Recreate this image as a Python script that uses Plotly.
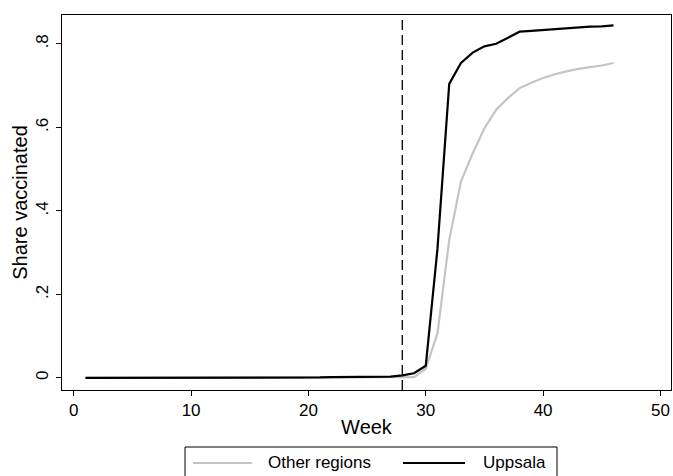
import plotly.graph_objects as go

weeks = list(range(1, 47))
other_regions = [0]*19 + [0.0003, 0.0006, 0.001, 0.001, 0.001, 0.001, 0.001, 0.0015, 0.002,
                 0.002, 0.022, 0.107, 0.33, 0.47, 0.538, 0.598, 0.642, 0.670, 0.694,
                 0.707, 0.718, 0.727, 0.734, 0.740, 0.744, 0.748, 0.754]
uppsala = [0]*19 + [0.0005, 0.001, 0.002, 0.002, 0.002, 0.002, 0.002, 0.003, 0.006,
           0.011, 0.029, 0.31, 0.704, 0.754, 0.779, 0.794, 0.800, 0.814, 0.829,
           0.831, 0.833, 0.836, 0.838, 0.840, 0.841, 0.842, 0.844]
vline_week = 28
x_ticks = [0, 10, 20, 30, 40, 50]
y_ticks = [0, 0.2, 0.4, 0.6, 0.8]
y_ticklabels = ["0", ".2", ".4", ".6", ".8"]
series_names = ["Other regions", "Uppsala"]
series_colors = ["#c4c4c4", "#000000"]

W, H = 673, 476
L, R, T, B = 62, 2, 15, 86
pw, ph = W - L - R, H - T - B


def px(x):
    return (x - L) / pw


def py(y):
    return (H - B - y) / ph


font = "Liberation Sans, Arial, Helvetica, sans-serif"
FS = 17
fig = go.Figure()
for name, vals, col in zip(series_names, [other_regions, uppsala], series_colors):
    fig.add_trace(go.Scatter(x=weeks, y=vals, mode="lines", name=name,
                             line=dict(color=col, width=2.2)))
fig.add_shape(type="line", x0=vline_week, x1=vline_week, y0=0, y1=1, yref="paper", xref="x",
              line=dict(color="black", width=1.3, dash="10px,5px"))

# legend drawn manually (Stata style box below the plot)
fig.add_shape(type="rect", xref="paper", yref="paper", x0=px(185), x1=px(557),
              y0=py(447), y1=py(495), line=dict(color="black", width=1), fillcolor="white",
              layer="above")
legend_items = [(193, 252, 266), (403, 465, 481)]
for (lx0, lx1, tx), name, col in zip(legend_items, series_names, series_colors):
    fig.add_shape(type="line", xref="paper", yref="paper", x0=px(lx0), x1=px(lx1),
                  y0=py(463), y1=py(463), line=dict(color=col, width=2.2), layer="above")
    fig.add_annotation(xref="paper", yref="paper", x=px(tx), y=py(463), text=name,
                       showarrow=False, xanchor="left", yanchor="middle",
                       font=dict(family=font, size=FS, color="black"))

fig.update_layout(
    width=W, height=H,
    margin=dict(l=L, r=R, t=T, b=B),
    paper_bgcolor="white", plot_bgcolor="white",
    font=dict(family=font, size=FS, color="black"),
    showlegend=False,
    xaxis=dict(range=[-1.0, 50.9], tickvals=x_ticks, ticks="outside", ticklen=5,
               tickcolor="black", showgrid=False, zeroline=False, showline=True,
               linecolor="black", linewidth=1, mirror=True, automargin=False,
               title=dict(text="Week", standoff=0)),
    yaxis=dict(range=[-0.029, 0.869], tickvals=y_ticks, ticktext=y_ticklabels,
               tickangle=-90, ticks="outside", ticklen=5, tickcolor="black",
               ticklabelstandoff=1,
               showgrid=False, zeroline=False, showline=True, linecolor="black",
               linewidth=1, mirror=True, automargin=False,
               title=dict(text="Share vaccinated", standoff=0)),
)
fig.write_html("out.html", post_script="document.body.style.margin='0px';",
               config={"displayModeBar": False})
